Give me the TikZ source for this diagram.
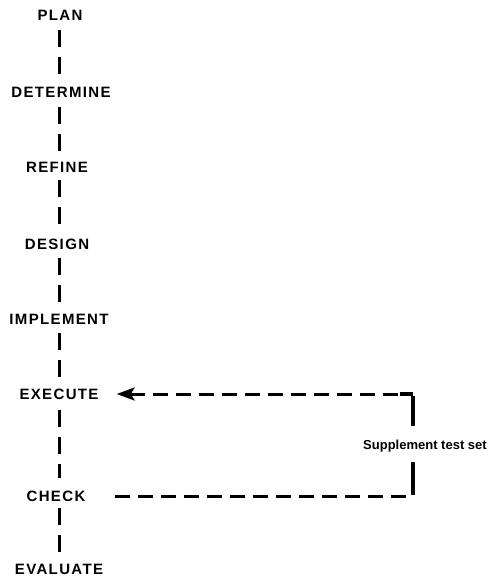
\documentclass[tikz,border=0pt]{standalone}
\usepackage{fontspec}
\setmainfont{Liberation Sans}
\usetikzlibrary{arrows.meta}
\newfontfamily\capsfont[LetterSpace=9]{Liberation Sans}
\begin{document}
\begin{tikzpicture}[x=1pt,y=-1pt,
  stage/.style={inner sep=0pt, font=\capsfont\fontsize{15}{15}\selectfont\bfseries, text height=11pt, text depth=0pt},
  note/.style={inner sep=0pt, font=\fontsize{13}{13}\selectfont\bfseries},
  vline/.style={line width=3pt, dash pattern=on 17pt off 10pt},
  fbline/.style={line width=3pt, dash pattern=on 15pt off 8pt},
  fbsolid/.style={line width=3.2pt}]
\useasboundingbox (0,0) rectangle (490,577);
\node[stage] (plan) at (60,15) {PLAN};
\node[stage] (det) at (61,92.5) {DETERMINE};
\node[stage] (ref) at (57,167.5) {REFINE};
\node[stage] (des) at (57,244) {DESIGN};
\node[stage] (imp) at (59,318.5) {IMPLEMENT};
\node[stage] (exe) at (59,394) {EXECUTE};
\node[stage] (chk) at (56,496) {CHECK};
\node[stage] (eva) at (59,569) {EVALUATE};
\node[note] (sup) at (425,446) {Supplement test set};
\coordinate (rx) at (413,0);
\draw[vline, shorten <=9pt, shorten >=12pt] (plan.south -| 59,0) -- (det.north -| 59,0);
\draw[vline, shorten <=9pt, shorten >=10pt] (det.south -| 59,0) -- (ref.north -| 59,0);
\draw[vline, shorten <=7pt, shorten >=13pt] (ref.south -| 59,0) -- (des.north -| 59,0);
\draw[vline, shorten <=8.5pt, shorten >=8pt] (des.south -| 59,0) -- (imp.north -| 59,0);
\draw[vline, shorten <=9pt, shorten >=11pt] (imp.south -| 59,0) -- (exe.north -| 59,0);
\draw[vline, shorten <=10pt, shorten >=12pt] (exe.south -| 59,0) -- (chk.north -| 59,0);
\draw[vline, shorten <=6.5pt, shorten >=11pt] (chk.south -| 59,0) -- (eva.north -| 59,0);
\draw[fbline, shorten <=29pt] (chk.east) -- (chk.east -| rx);
\draw[fbsolid] ([yshift=1.5pt]chk.east -| rx) -- ++(0,-33);
\draw[fbsolid] ([yshift=-1.5pt]exe.east -| rx) -- ++(0,30);
\draw[fbsolid] (exe.east -| rx) -- ++(-13,0);
\draw[fbline, {Stealth[length=18pt,width=13pt,inset=4pt]}-, shorten <=18pt, shorten >=14pt] (exe.east) -- (exe.east -| rx);
\end{tikzpicture}
\end{document}
